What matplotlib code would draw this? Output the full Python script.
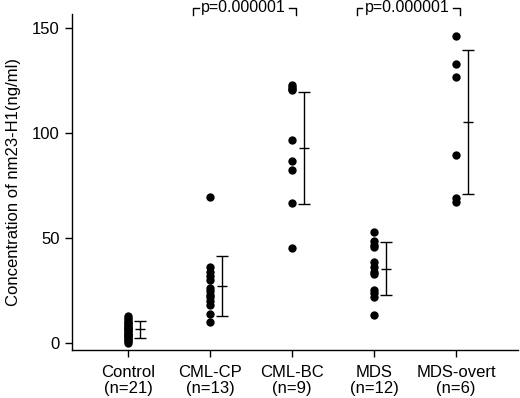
import matplotlib.pyplot as plt
import numpy as np

plt.rcParams["font.family"] = ["Liberation Sans", "DejaVu Sans"]

# Data: nm23-H1 concentration (ng/ml) per group
groups = ["Control\n(n=21)", "CML-CP\n(n=13)", "CML-BC\n(n=9)", "MDS\n(n=12)", "MDS-overt\n(n=6)"]

control = [0, 1, 1.5, 2, 3, 3.5, 4, 4.5, 5, 5.5, 6, 6.5, 7, 7.5, 8, 9, 9.5, 10, 11, 12, 13]
cml_cp = [69.5, 36, 34, 32, 30, 26, 25, 23, 22, 20, 18, 14, 10]
cml_bc = [123, 122, 121, 120.5, 96.7, 86.7, 82.4, 66.8, 45.1]
mds = [53, 48.7, 46.5, 45.5, 38.7, 36, 34, 33, 25.2, 24, 22, 13.3]
mds_overt = [146, 132.9, 126.5, 89.5, 68.9, 67.3]

means = [6.5, 27.2, 93.0, 35.3, 105.3]
sds = [4.0, 14.3, 26.7, 12.6, 34.2]

p_pairs = [(1, 2), (3, 4)]
p_labels = ["p=0.000001", "p=0.000001"]

FS = 12
fig = plt.figure(figsize=(5.2, 3.98), dpi=100, facecolor="white")
ax = fig.add_axes([0.1385, 0.1206, 0.996 - 0.1385, 0.9648 - 0.1206])

all_vals = [control, cml_cp, cml_bc, mds, mds_overt]
for i, vals in enumerate(all_vals):
    ax.scatter(np.full(len(vals), i), vals, s=36, color="black", zorder=3, linewidths=0)

xerr_pos = np.arange(len(groups)) + 0.15
ax.errorbar(xerr_pos, means, yerr=sds, fmt="none", ecolor="black",
            elinewidth=1.0, capsize=4, capthick=1.0)
ax.scatter(xerr_pos, means, marker="_", s=60, color="black", linewidths=1.0)

# p-value brackets above the plot
y_line = 159.8
y_tick = 156.2
for (a, b), lab in zip(p_pairs, p_labels):
    x0, x1 = a - 0.21, b + 0.05
    xl, xr = x0 + 0.07, x1 - 0.09
    ax.plot([x0, x0, xl], [y_tick, y_line, y_line], color="black", lw=1.0, clip_on=False)
    ax.plot([xr, x1, x1], [y_line, y_line, y_tick], color="black", lw=1.0, clip_on=False)
    ax.text((xl + xr) / 2, y_line, lab, ha="center", va="center", fontsize=11.5, clip_on=False)

ax.set_xlim(-0.683, 4.756)
ax.set_ylim(-3.33, 156.7)
ax.set_yticks([0, 50, 100, 150])
ax.set_xticks(range(len(groups)))
ax.set_xticklabels(groups, fontsize=FS, linespacing=1.1)
ax.tick_params(axis="y", labelsize=FS, length=5, width=1.0, pad=4)
ax.tick_params(axis="x", length=5, width=1.0, pad=6)
ax.set_ylabel("Concentration of nm23-H1(ng/ml)", fontsize=FS, labelpad=8)

for side in ["top", "right"]:
    ax.spines[side].set_visible(False)
for side in ["left", "bottom"]:
    ax.spines[side].set_linewidth(1.0)

plt.savefig("out.png", dpi=100, facecolor="white")
